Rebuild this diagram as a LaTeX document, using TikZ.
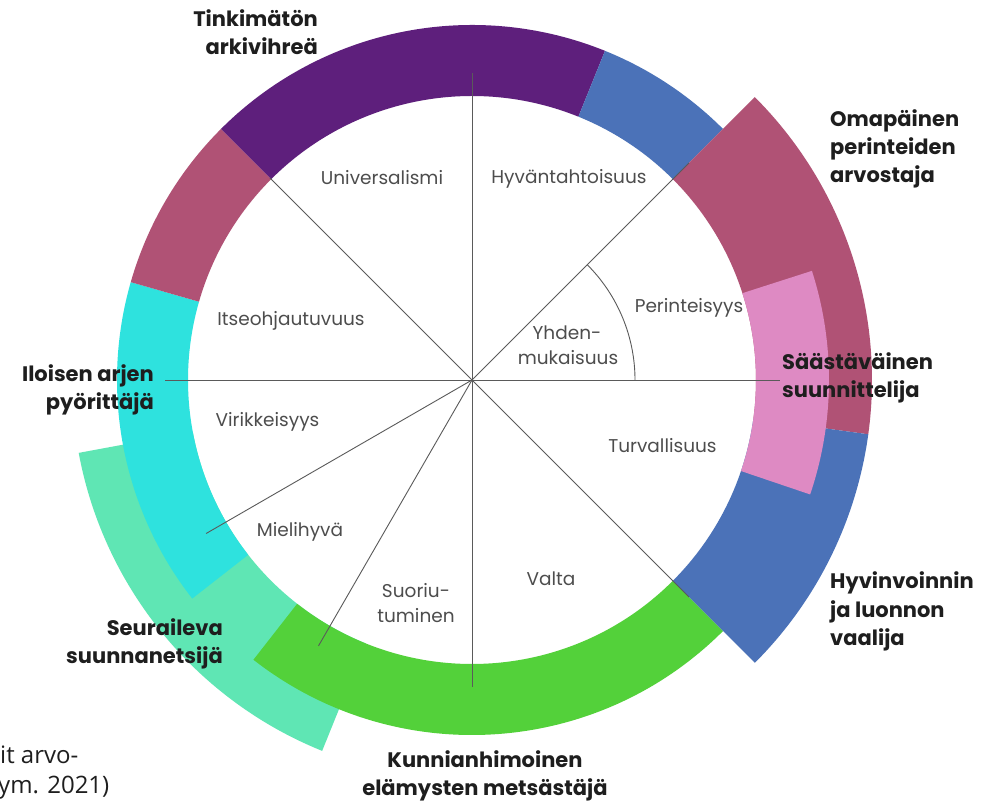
\documentclass[tikz,border=0pt]{standalone}
\usepackage{fontspec}
\setmainfont{Poppins}
\newfontfamily\capfont{Open Sans}
\definecolor{cPurple}{HTML}{5E1F7C}
\definecolor{cBlue}{HTML}{4B72B8}
\definecolor{cRose}{HTML}{B05275}
\definecolor{cPink}{HTML}{DE8AC3}
\definecolor{cCyan}{HTML}{2EE2DE}
\definecolor{cMint}{HTML}{5FE6B4}
\definecolor{cGreen}{HTML}{53D13A}
\definecolor{cLine}{HTML}{5A5A5A}
\definecolor{cLabel}{HTML}{4D4D4D}
\definecolor{cTitle}{HTML}{1E1E1E}
\newcommand\ringseg[5]{\fill[#1] (#2:#4pt) arc[start angle=#2, end angle=#3, radius=#4pt] -- (#3:#5pt) arc[start angle=#3, end angle=#2, radius=#5pt] -- cycle;}
\tikzset{
  valuelabel/.style={inner sep=0pt, text=cLabel, font=\fontsize{18.5}{22}\selectfont, anchor=base},
  persona/.style={inner sep=0pt, text=cTitle, font=\fontsize{21}{26}\selectfont\bfseries},
  spoke/.style={draw=cLine, line width=0.9pt},
  captext/.style={inner sep=0pt, text=cTitle, font=\capfont\fontsize{24}{30}\selectfont, anchor=base west},
}
\begin{document}
\begin{tikzpicture}[x=1pt,y=1pt]
\useasboundingbox (-472,-422) rectangle (512,380);
\fill[white] (-472,-422) rectangle (512,380);
% ring segments
\ringseg{cMint}{190.5}{248}{284}{400}
\ringseg{cCyan}{164}{218}{284}{355}
\ringseg{cGreen}{232}{315}{284}{355}
\ringseg{cRose}{135}{164}{284}{355}
\ringseg{cPurple}{68}{135}{284}{355}
\ringseg{cBlue}{45}{68}{284}{355}
\ringseg{cRose}{-7.8}{45}{284}{400}
\ringseg{cBlue}{-45}{-7.8}{284}{400}
\ringseg{cPink}{-18.7}{17.8}{284}{357}
% spokes
\coordinate (O) at (0,0);
\coordinate (s0) at (0:308pt);
\coordinate (s45) at (45:307pt);
\coordinate (s90) at (90:307pt);
\coordinate (s135) at (135:286pt);
\coordinate (s180) at (180:307pt);
\coordinate (s210) at (210:307pt);
\coordinate (s240) at (240:307pt);
\coordinate (s270) at (270:307pt);
\coordinate (s315) at (315:307pt);
\foreach \s in {s0,s45,s90,s135,s180,s210,s240,s270,s315} \draw[spoke] (O) -- (\s);
\coordinate (a0) at (0:163pt);
\draw[spoke] (a0) arc[start angle=0, end angle=45, radius=163pt];
% value labels
\node[valuelabel] (universalismi) at (-90,195) {Universalismi};
\node[valuelabel] (hyvantahto) at (97,196) {Hyväntahtoisuus};
\node[valuelabel] (itseohj) at (-181,54) {Itseohjautuvuus};
\node[valuelabel] (perinteisyys) at (217,67) {Perinteisyys};
\node[valuelabel] (yhden1) at (95,40) {Yhden-};
\node[valuelabel] (yhden2) at (96,15) {mukaisuus};
\node[valuelabel] (virikkeisyys) at (-204.5,-47) {Virikkeisyys};
\node[valuelabel] (turvallisuus) at (190.5,-73) {Turvallisuus};
\node[valuelabel] (mielihyva) at (-172,-157) {Mielihyvä};
\node[valuelabel] (suoriu1) at (-56,-217) {Suoriu-};
\node[valuelabel] (suoriu2) at (-56,-242) {tuminen};
\node[valuelabel] (valta) at (79,-205) {Valta};
% persona labels
\node[persona, anchor=base east] (tink1) at (-154,353) {Tinkimätön};
\node[persona, anchor=base east] (tink2) at (-154,325) {arkivihreä};
\node[persona, anchor=base west] (oma1) at (358,253) {Omapäinen};
\node[persona, anchor=base west] (oma2) at (358,225) {perinteiden};
\node[persona, anchor=base west] (oma3) at (358,197) {arvostaja};
\node[persona, anchor=base west] (saa1) at (310,10) {Säästäväinen};
\node[persona, anchor=base west] (saa2) at (310,-18) {suunnittelija};
\node[persona, anchor=base east] (ilo1) at (-318,-2) {Iloisen arjen};
\node[persona, anchor=base east] (ilo2) at (-318,-30) {pyörittäjä};
\node[persona, anchor=base east] (seu1) at (-249,-255) {Seuraileva};
\node[persona, anchor=base east] (seu2) at (-249,-283) {suunnanetsijä};
\node[persona, anchor=base] (kun1) at (13,-387) {Kunnianhimoinen};
\node[persona, anchor=base] (kun2) at (13,-415) {elämysten metsästäjä};
\node[persona, anchor=base west] (hyv1) at (358,-208) {Hyvinvoinnin};
\node[persona, anchor=base west] (hyv2) at (358,-237) {ja luonnon};
\node[persona, anchor=base west] (hyv3) at (358,-265) {vaalija};
% caption fragment
\node[captext] (cap1) at (-472,-383) {it arvo-};
\node[captext] (cap2) at (-474,-413) {ym. 2021)};
\end{tikzpicture}
\end{document}
